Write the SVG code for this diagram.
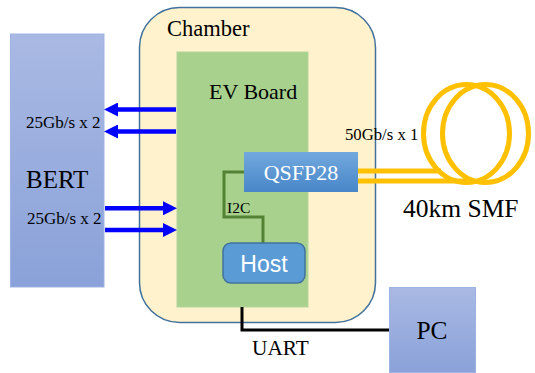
<svg xmlns="http://www.w3.org/2000/svg" width="535" height="373" viewBox="0 0 535 373">
<defs>
<linearGradient id="gBlue" x1="0" y1="0" x2="0" y2="1">
<stop offset="0" stop-color="#a9b9e3"/>
<stop offset="1" stop-color="#8aa2d9"/>
</linearGradient>
<linearGradient id="gQ" x1="0" y1="0" x2="0" y2="1">
<stop offset="0" stop-color="#72a9de"/>
<stop offset="1" stop-color="#4886c8"/>
</linearGradient>
<marker id="ah" markerUnits="userSpaceOnUse" markerWidth="14" markerHeight="14" refX="0" refY="7" orient="auto" viewBox="0 0 14 14">
<path d="M0,0 L14,7 L0,14 z" fill="#0000ff"/>
</marker>
</defs>
<style>
.serif{font-family:'Liberation Serif','Tinos','Times New Roman','Noto Serif','DejaVu Serif',serif;fill:#000}
.arrow{stroke:#0000ff;stroke-width:4.5;fill:none;marker-end:url(#ah)}
.fiber{stroke:#ffc000;stroke-width:5;fill:none}
</style>
<rect width="535" height="373" fill="#ffffff"/>
<g id="bert">
<rect x="10.5" y="34" width="93.5" height="253" fill="url(#gBlue)" stroke="#9fb3e2" stroke-width="1"/>
<text class="serif" x="26" y="188" font-size="25">BERT</text>
<text class="serif" x="26" y="127.5" font-size="17">25Gb/s x 2</text>
<text class="serif" x="27" y="224" font-size="17">25Gb/s x 2</text>
</g>
<g id="chamber">
<rect x="139.5" y="7.5" width="236" height="315" rx="40" ry="40" fill="#fff2cc" stroke="#41719c" stroke-width="1.5"/>
<text class="serif" x="167" y="36" font-size="22.5">Chamber</text>
</g>
<g id="evboard">
<rect x="177" y="52" width="131" height="255" fill="#a9d18e" stroke="#b3d59b" stroke-width="1"/>
<text class="serif" x="209" y="99" font-size="22">EV Board</text>
</g>
<g id="connectors">
<line class="arrow" x1="176" y1="109.5" x2="118" y2="109.5"/>
<line class="arrow" x1="176" y1="131.5" x2="118" y2="131.5"/>
<line class="arrow" x1="105" y1="208.3" x2="163" y2="208.3"/>
<line class="arrow" x1="105" y1="230" x2="163" y2="230"/>
<path d="M244,172 H224 V217 H263 V243" fill="none" stroke="#548235" stroke-width="3"/>
<path d="M242,307 V330 H389" fill="none" stroke="#000" stroke-width="3"/>
<line class="fiber" x1="358" y1="171" x2="441" y2="171"/>
<line class="fiber" x1="358" y1="181" x2="470" y2="181"/>
<text class="serif" x="227" y="213" font-size="15.5">I2C</text>
<text class="serif" x="252" y="355" font-size="21.3">UART</text>
<text class="serif" x="345" y="140" font-size="16.7">50Gb/s x 1</text>
</g>
<g id="qsfp28">
<rect x="244" y="152" width="114" height="40" fill="url(#gQ)"/>
<text class="serif" x="301" y="180" font-size="22" text-anchor="middle" style="fill:#ffffff">QSFP28</text>
</g>
<g id="host">
<rect x="223" y="243" width="82" height="40" rx="8" ry="8" fill="#5b9bd5" stroke="#41719c" stroke-width="1.5"/>
<text x="264" y="272" font-size="23" text-anchor="middle" font-family="'Liberation Sans', Arial, sans-serif" fill="#ffffff">Host</text>
</g>
<g id="smf">
<ellipse class="fiber" cx="466.5" cy="133.5" rx="43" ry="49"/>
<ellipse class="fiber" cx="485.5" cy="133.5" rx="43" ry="49"/>
<text class="serif" x="403" y="217" font-size="25.5">40km SMF</text>
</g>
<g id="pc">
<rect x="389.5" y="287.5" width="86" height="85" fill="url(#gBlue)" stroke="#9fb3e2" stroke-width="1"/>
<text class="serif" x="432" y="339" font-size="25.4" text-anchor="middle">PC</text>
</g>
</svg>
